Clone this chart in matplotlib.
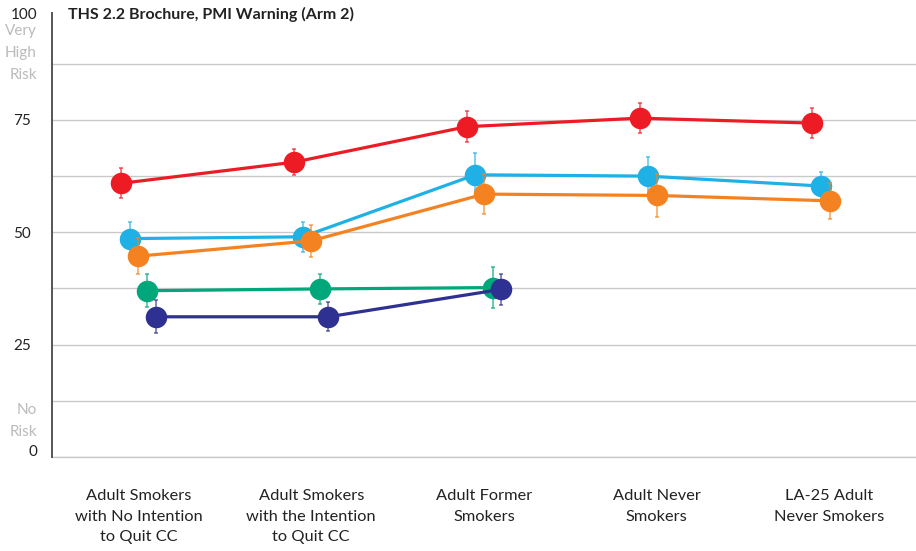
import numpy as np
import matplotlib
matplotlib.use("Agg")
import matplotlib.pyplot as plt
from matplotlib.transforms import offset_copy

plt.rcParams['font.family'] = ['Lato', 'DejaVu Sans']

categories = [
    "Adult Smokers\nwith No Intention\nto Quit CC",
    "Adult Smokers\nwith the Intention\nto Quit CC",
    "Adult Former\nSmokers",
    "Adult Never\nSmokers",
    "LA-25 Adult\nNever Smokers",
]

series_names = ["S1", "S2", "S3", "S4", "S5"]
series_colors = ["#ED1C24", "#1FB1E6", "#F58220", "#00A77A", "#2E3192"]

series_values = [
    [60.9, 65.6, 73.5, 75.4, 74.3],
    [48.6, 49.0, 62.8, 62.5, 60.3],
    [44.7, 48.1, 58.5, 58.2, 57.0],
    [37.0, 37.4, 37.7],
    [31.2, 31.2, 37.3],
]
series_errors = [
    [3.3, 2.9, 3.4, 3.3, 3.3],
    [3.8, 3.4, 4.9, 4.3, 3.1],
    [4.0, 3.5, 4.5, 4.8, 4.0],
    [3.7, 3.3, 4.5],
    [3.7, 3.2, 3.5],
]

title = "THS 2.2 Brochure, PMI Warning (Arm 2)"

fig = plt.figure(figsize=(9.16, 5.51), dpi=100)
ax = fig.add_axes([52 / 916, 94 / 551, 864 / 916, 444 / 551])

dodge = 0.05
n = len(series_values)
for k, (vals, errs, col) in enumerate(zip(series_values, series_errors, series_colors)):
    x = np.arange(len(vals)) + (k - (n - 1) / 2) * dodge
    ax.errorbar(x, vals, yerr=errs, fmt='none', ecolor=col, alpha=0.75,
                elinewidth=1.1, capsize=1.6, capthick=1.1, zorder=3 + 2 * k)
    ax.plot(x, vals, color=col, lw=2.3, marker='o', markersize=15.5,
            markeredgewidth=0, zorder=4 + 2 * k, solid_capstyle='round')

ax.set_xlim(-0.5, len(categories) - 0.5)
ax.set_ylim(0, 98.8)

# horizontal guides every 12.5 points
ax.set_yticks(np.arange(0, 100, 12.5))
ax.set_yticklabels(['', '', '25', '', '50', '', '75', ''])
ax.yaxis.grid(True, color='#C9C9C9', lw=1.0)
ax.axhline(0, color='#C9C9C9', lw=1.0, clip_on=False, zorder=0.5)
ax.set_axisbelow(True)
ax.tick_params(axis='y', length=0, pad=15, labelsize=11, labelcolor='#222222')

ax.set_xticks(np.arange(len(categories)))
ax.set_xticklabels(categories, fontsize=11.8, color='#222222', linespacing=1.6)
ax.tick_params(axis='x', length=0, pad=23)

for side in ['top', 'right', 'bottom']:
    ax.spines[side].set_visible(False)
ax.spines['left'].set_color('#555555')
ax.spines['left'].set_linewidth(1.4)

ytrans = offset_copy(ax.get_yaxis_transform(), fig=fig, x=-15, y=0, units='dots')
ax.text(0, 98.4, "100", transform=ytrans, ha='right', va='center',
        fontsize=11, color='#222222')
ax.text(0, 1.1, "0", transform=ytrans, ha='right', va='center',
        fontsize=11, color='#222222')
ax.text(0, 89.9, "Very\nHigh\nRisk", transform=ytrans, ha='right', va='center',
        fontsize=11, color='#BBBBBB', linespacing=1.7)
ax.text(0, 8.0, "No\nRisk", transform=ytrans, ha='right', va='center',
        fontsize=11, color='#BBBBBB', linespacing=1.7)

ax.text(0.019, 98.4, title, transform=ax.get_yaxis_transform(), ha='left',
        va='center', fontsize=11.5, fontweight='bold', color='#222222')

fig.savefig("out.png", dpi=100)
